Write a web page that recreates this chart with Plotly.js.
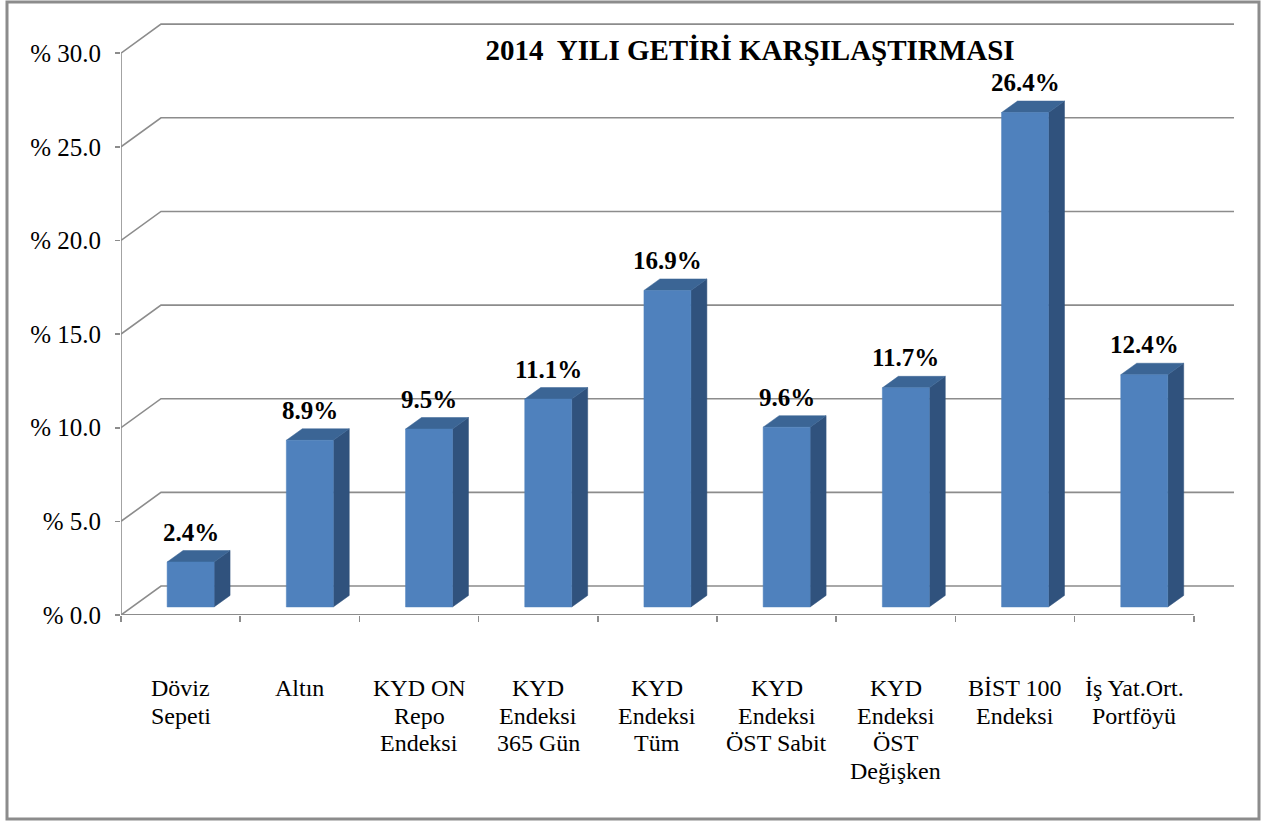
<!DOCTYPE html>
<html>
<head>
<meta charset="utf-8">
<script src="https://cdn.plot.ly/plotly-3.0.1.min.js"></script>
<style>html,body{margin:0;padding:0;background:#fff;}#chart{width:1267px;height:823px;}</style>
</head>
<body>
<div id="chart"></div>
<script>
// ---- data ----
const categories = ["Döviz<br>Sepeti", "Altın", "KYD ON<br>Repo<br>Endeksi", "KYD<br>Endeksi<br>365 Gün", "KYD<br>Endeksi<br>Tüm", "KYD<br>Endeksi<br>ÖST Sabit", "KYD<br>Endeksi<br>ÖST<br>Değişken", "BİST 100<br>Endeksi", "İş Yat.Ort.<br>Portföyü"];
const returns = [2.4, 8.9, 9.5, 11.1, 16.9, 9.6, 11.7, 26.4, 12.4];
const yTicks = [0, 5, 10, 15, 20, 25, 30];
const yTickText = ["% 0.0", "% 5.0", "% 10.0", "% 15.0", "% 20.0", "% 25.0", "% 30.0"];
const titleText = "2014  YILI GETİRİ KARŞILAŞTIRMASI";

// ---- geometry (pseudo-3D projection, in axis units) ----
const XMIN = -0.5, XMAX = 8.837;
const YMAX = 31.77;
const wallDx = 0.3356, wallDy = 1.548;   // depth of back wall
const barShiftX = 0.084, barShiftY = 0.43; // bar front face placed inside the floor
const barHalfW = 0.197;
const barDx = 0.134, barDy = 0.614;       // bar depth
const gridColor = "#8c8c8c";
const FONT = "'Liberation Serif', 'Times New Roman', 'DejaVu Serif', serif";

const traces = [];

// back wall grid lines + left wall diagonals
const gx = [], gy = [];
yTicks.forEach(t => {
  gx.push(XMIN, XMIN + wallDx, XMAX, null);
  gy.push(t, t + wallDy, t + wallDy, null);
});
traces.push({x: gx, y: gy, mode: "lines", line: {color: gridColor, width: 1.6}, hoverinfo: "skip", cliponaxis: false});
// front axis lines
traces.push({x: [XMIN, XMIN], y: [0, 30], mode: "lines", line: {color: gridColor, width: 1.6}, hoverinfo: "skip", cliponaxis: false});
traces.push({x: [XMIN, categories.length - 0.5], y: [0, 0], mode: "lines", line: {color: gridColor, width: 2.2}, hoverinfo: "skip", cliponaxis: false});

// bars: front, side, top faces
const fx = [], fy = [], sx = [], sy = [], tx = [], ty = [];
returns.forEach((v, i) => {
  const xl = i + barShiftX - barHalfW, xr = i + barShiftX + barHalfW;
  const yb = barShiftY, yt = v + barShiftY;
  fx.push(xl, xr, xr, xl, xl, null); fy.push(yb, yb, yt, yt, yb, null);
  sx.push(xr, xr + barDx, xr + barDx, xr, xr, null); sy.push(yb, yb + barDy, yt + barDy, yt, yb, null);
  tx.push(xl, xr, xr + barDx, xl + barDx, xl, null); ty.push(yt, yt, yt + barDy, yt + barDy, yt, null);
});
const face = (x, y, c) => ({x, y, mode: "lines", fill: "toself", fillcolor: c, line: {color: c, width: 0.5}, hoverinfo: "skip", cliponaxis: false});
traces.push(face(sx, sy, "#30527d"));
traces.push(face(tx, ty, "#3b6595"));
traces.push(face(fx, fy, "#4f81bd"));

const annotations = [];
const LINE_GAP = 27.7;
categories.forEach((c, i) => {
  c.split("<br>").forEach((line, k) => {
    annotations.push({x: i, y: 0, xref: "x", yref: "y", text: line, showarrow: false, xanchor: "center", yanchor: "middle", yshift: -(73 + k * LINE_GAP), font: {family: FONT, size: 24, color: "#000"}});
  });
});
returns.forEach((v, i) => {
  annotations.push({x: i + barShiftX, y: v + barShiftY + barDy, xref: "x", yref: "y", text: v.toFixed(1) + "%", showarrow: false, xanchor: "center", yanchor: "bottom", yshift: 3, font: {family: FONT, size: 25, color: "#000", weight: "bold"}});
});

const L = 121, R = 33, T = 20, B = 208;
const pw = 1267 - L - R, ph = 823 - T - B;
const px = p => (p - L) / pw, py = p => (823 - B - p) / ph;

const layout = {
  width: 1267, height: 823,
  margin: {l: L, r: R, t: T, b: B, pad: 0},
  paper_bgcolor: "#fff", plot_bgcolor: "rgba(0,0,0,0)",
  showlegend: false,
  font: {family: FONT},
  title: {text: titleText, x: 750 / 1267, xref: "container", xanchor: "center", y: 1 - 50 / 823, yref: "container", yanchor: "middle", font: {family: FONT, size: 29, color: "#000", weight: "bold"}},
  xaxis: {range: [XMIN, XMAX], showgrid: false, zeroline: false, showline: false,
    tickvals: categories.map((c, i) => i - 0.5).concat([categories.length - 0.5]),
    ticktext: categories.map(() => "").concat([""]),
    ticks: "outside", ticklen: 6, tickwidth: 1.6, tickcolor: gridColor, fixedrange: true},
  yaxis: {range: [0, YMAX], showgrid: false, zeroline: false, showline: false,
    tickvals: yTicks, ticktext: yTickText, ticks: "outside", ticklen: 5, tickwidth: 1.6, tickcolor: gridColor,
    ticklabelstandoff: 9, tickfont: {family: FONT, size: 25, color: "#000"}, fixedrange: true},
  annotations: annotations,
  shapes: [{type: "rect", xref: "paper", yref: "paper", x0: px(7), x1: px(1259), y0: py(819), y1: py(2), line: {color: "#8c8c8c", width: 3}, layer: "below"}]
};

Plotly.newPlot("chart", traces, layout, {staticPlot: true, displayModeBar: false});
</script>
</body>
</html>
